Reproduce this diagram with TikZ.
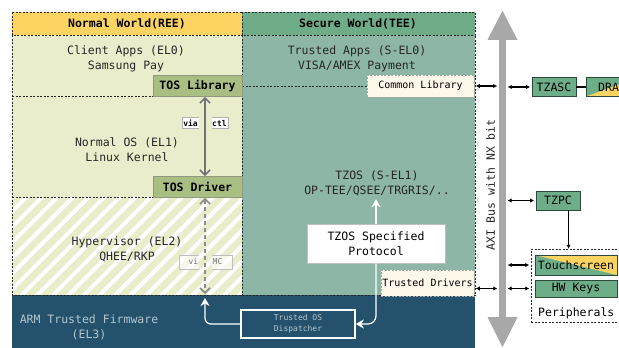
\documentclass[tikz,border=0pt]{standalone}
\usepackage{fontspec}
\setmonofont{DejaVu Sans Mono}
\usepackage{xcolor}
\usetikzlibrary{positioning,calc,patterns.meta,arrows.meta}

\definecolor{reeyellow}{HTML}{FDD462}
\definecolor{teegreen}{HTML}{6FAD88}
\definecolor{reebody}{HTML}{E9EDCB}
\definecolor{teebody}{HTML}{8DB6A6}
\definecolor{atfblue}{HTML}{24516B}
\definecolor{atftext}{HTML}{B4C6D0}
\definecolor{tosgreen}{HTML}{A9BE83}
\definecolor{libcream}{HTML}{FDF8EA}
\definecolor{busgray}{HTML}{A8A8A8}
\definecolor{hwgreen}{HTML}{6DAE88}
\definecolor{hwedge}{HTML}{2C4A3A}

\tikzset{
  zone/.style={draw=black!85, line width=0.5pt, dash pattern=on 2pt off 1.5pt},
  hatch/.style={pattern={Lines[angle=45,distance=11pt,line width=4pt]}, pattern color=white},
  title/.style={font=\ttfamily\bfseries\fontsize{11.5}{14}\selectfont},
  layer/.style={align=center, font=\ttfamily\fontsize{11.5}{15}\selectfont, text=black!85},
  tosbox/.style={draw=gray!60!tosgreen, fill=tosgreen, line width=0.8pt, inner sep=0pt,
    minimum width=89, minimum height=21, font=\ttfamily\bfseries\fontsize{11.5}{14}\selectfont},
  libbox/.style={zone, draw=gray!70, fill=libcream, inner sep=0pt,
    font=\ttfamily\fontsize{10}{12}\selectfont},
  vialabel/.style={draw=gray!60, fill=white, inner sep=1.5pt, minimum height=11,
    font=\ttfamily\bfseries\fontsize{8}{9}\selectfont},
  smclabel/.style={draw=gray!50, fill=white, fill opacity=0.6, text opacity=1, text=gray!90!black,
    inner sep=1.5pt, minimum width=53, minimum height=14, font=\ttfamily\fontsize{8}{9}\selectfont},
  iocarrow/.style={<->, >={Straight Barb[length=5pt,width=10pt,line width=1.6pt]},
    draw=black!55, line width=2.2pt},
  smcarrow/.style={iocarrow, draw=black!45, dash pattern=on 4pt off 3pt},
  whitearrow/.style={draw=white, line width=1.2pt, >={Stealth[length=8pt,width=9pt]}},
  dispbox/.style={draw=white, line width=1.6pt, fill=atfblue, text=atftext, align=center,
    minimum width=114, minimum height=28, inner sep=0pt, font=\ttfamily\fontsize{8}{11}\selectfont},
  protobox/.style={draw=gray!50, fill=white, line width=0.8pt, align=center,
    minimum width=138, minimum height=39, inner sep=0pt, font=\ttfamily\fontsize{11.5}{15}\selectfont},
  hwbox/.style={draw=hwedge, fill=hwgreen, line width=0.8pt, inner sep=0pt,
    font=\ttfamily\fontsize{11.5}{14}\selectfont},
  halfyellow/.style={path picture={
    \fill[reeyellow] (path picture bounding box.#1) -- (path picture bounding box.south east)
      -- (path picture bounding box.north east) -- cycle;}},
  busarrow/.style={<->, >={Latex[length=4pt,width=4.5pt]}, line width=1.2pt,
    shorten <=1.5pt, shorten >=1.5pt},
}

\begin{document}
\begin{tikzpicture}[x=1pt,y=-1pt,>=stealth,font=\ttfamily]
  \useasboundingbox (0,0) rectangle (619,348);
  \clip (0,0) rectangle (619,348);

  % The two worlds and the firmware below them
  \fill[reebody] (12,35) rectangle (242,295);
  \fill[hatch] (12,197) rectangle (242,295);
  \fill[teebody] (242,35) rectangle (475,295);
  \fill[atfblue] (12,295) rectangle (475,348);
  \draw[zone, fill=reeyellow] (12,12) rectangle (242,35);
  \draw[zone, fill=teegreen] (242,12) rectangle (475,35);
  \draw[zone] (12,35) -- (12,295) -- (475,295) -- (475,35);
  \draw[zone] (242,35) -- (242,295);
  \draw[zone] (12,96) -- (242,96);
  \draw[zone] (12,197) -- (242,197);
  \draw[zone] (242,86) -- (367,86);

  \node[title] (ree) at (127,23.5) {Normal World(REE)};
  \node[title] (tee) at (358,23.5) {Secure World(TEE)};

  % Exception levels
  \node[layer] (el0) at (126,58.5) {Client Apps (EL0)\\Samsung Pay};
  \node[layer] (sel0) at (357,58.5) {Trusted Apps (S-EL0)\\VISA/AMEX Payment};
  \node[layer] (el1) at (127,150) {Normal OS (EL1)\\Linux Kernel};
  \node[layer] (sel1) at (377,183) {TZOS (S-EL1)\\OP-TEE/QSEE/TRGRIS/..};
  \node[layer] (el2) at (127,249.5) {Hypervisor (EL2)\\QHEE/RKP};
  \node[layer, text=atftext] (el3) at (89,327) {ARM Trusted Firmware\\(EL3)};

  % Normal world path down to the monitor
  \node[tosbox] (toslib) at (197.5,86) {TOS Library};
  \node[tosbox] (tosdrv) at (197.5,187) {TOS Driver};
  \node[vialabel] (ioctl) at (205,123) {via ioctl};
  \fill[reebody] ($(ioctl.north)+(-6.5,-1)$) rectangle ($(ioctl.south)+(6.5,1)$);
  \draw[iocarrow] ([xshift=7.5pt]toslib.south) -- ([xshift=7.5pt]tosdrv.north);

  \node[smclabel] (smc) at (205.5,262) {via SMC};
  \fill[reebody] ($(smc.north)+(-7,-1)$) rectangle ($(smc.south)+(6,1)$);
  \fill[hatch] ($(smc.north)+(-7,-1)$) rectangle ($(smc.south)+(6,1)$);
  \coordinate (atftop) at (205,294);
  \draw[smcarrow] ([xshift=7.5pt]tosdrv.south) -- (atftop);

  % Monitor and secure world protocol
  \node[dispbox] (disp) at (298,324) {Trusted OS\\Dispatcher};
  \coordinate (smcin) at (205,298);
  \draw[whitearrow, <-, rounded corners=6pt] (smcin) |- (disp.west);

  \node[protobox] (proto) at (376,243.5) {TZOS Specified\\Protocol};
  \draw[whitearrow, ->] (proto.north) -- (proto.north |- sel1.south);
  \draw[whitearrow, ->, rounded corners=8pt] (proto.south) |- (disp.east);

  \node[libbox, minimum width=107, minimum height=22] (comlib) at (420.5,86) {Common Library};
  \node[libbox, minimum width=93, minimum height=26] (trdrv) at (427.5,283) {Trusted Drivers};

  % The system bus
  \node[fill=busgray, inner sep=0pt, minimum width=7, minimum height=277] (bus) at (502.5,178.5) {};
  \fill[busgray] ($(bus.north)+(-15,0)$) -- ($(bus.north)+(0,-29)$) -- ($(bus.north)+(15,0)$) -- cycle;
  \fill[busgray] ($(bus.south)+(-15,0)$) -- ($(bus.south)+(0,30)$) -- ($(bus.south)+(15,0)$) -- cycle;
  \node[rotate=90, font=\ttfamily\fontsize{11.5}{14}\selectfont, text=black!85] (axi) at (490.5,185) {AXI Bus with NX bit};

  % Controllers and peripherals on the bus
  \node[hwbox, minimum width=44, minimum height=19] (tzasc) at (554,87) {TZASC};
  \node[hwbox, halfyellow=south west, minimum width=52, minimum height=19] (dram) at (612,87) {DRAM};
  \node[hwbox, minimum width=44, minimum height=19] (tzpc) at (558,200.5) {TZPC};
  \node[zone, fill=white, minimum width=108, minimum height=73] (periph) at (585,285.5) {};
  \node[hwbox, halfyellow=north west, minimum width=82, minimum height=20] (touch) at (576,265) {Touchscreen};
  \node[hwbox, minimum width=82, minimum height=17] (hwkeys) at (576,288.5) {HW Keys};
  \node[font=\ttfamily\fontsize{11.5}{14}\selectfont, anchor=west, inner sep=0pt] (periphlbl) at (538,313) {Peripherals};

  \draw[busarrow] (comlib.east) -- (comlib.east -| bus.west);
  \draw[busarrow] (bus.east |- tzasc) -- (tzasc.west);
  \draw[line width=1.2pt] (tzasc.east) -- (dram.west);
  \draw[busarrow] (bus.east |- tzpc) -- (tzpc.west);
  \draw[->, >={Latex[length=4pt,width=4.5pt]}, line width=0.8pt] ([xshift=10.5pt]tzpc.south) -- ([xshift=10.5pt]tzpc.south |- periph.north);
  \draw[busarrow] (bus.east |- touch) -- (touch -| periph.west);
  \draw[busarrow] (bus.east |- hwkeys) -- (hwkeys -| periph.west);
  \draw[busarrow] (trdrv.east |- hwkeys) -- (hwkeys -| bus.west);
\end{tikzpicture}
\end{document}
